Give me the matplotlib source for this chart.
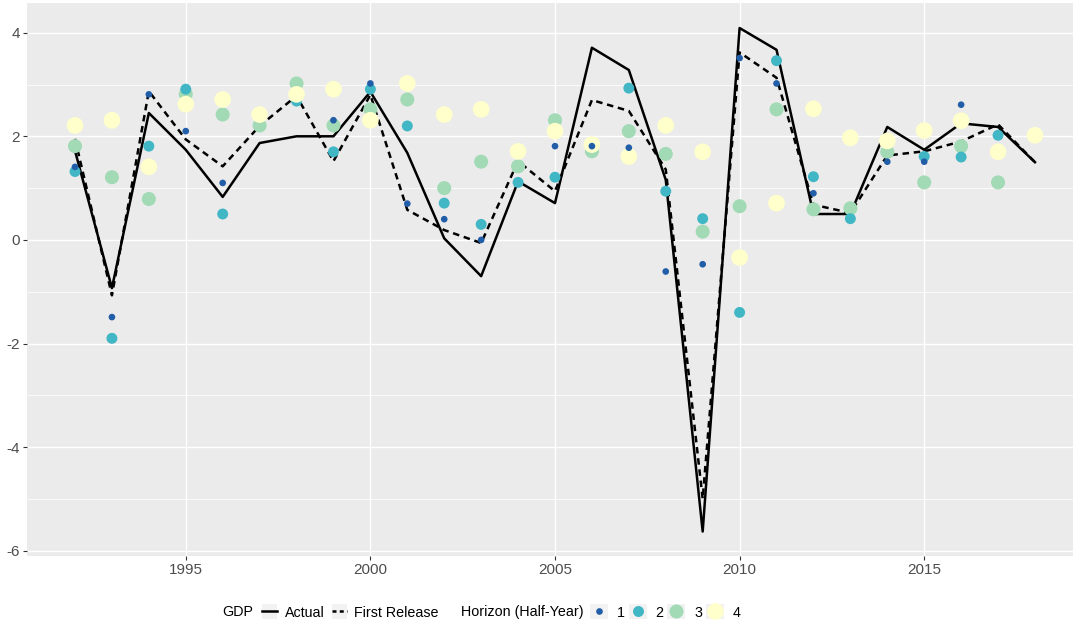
import numpy as np
import matplotlib
matplotlib.use("Agg")
import matplotlib.pyplot as plt
from matplotlib.lines import Line2D
from matplotlib.patches import Rectangle
from matplotlib.legend_handler import HandlerTuple

nan = np.nan
years = list(range(1992, 2019))
actual = [1.72, -0.93, 2.45, 1.74, 0.83, 1.87, 2.0, 2.0, 2.86, 1.68, 0.03, -0.70, 1.13,
          0.71, 3.71, 3.28, 1.16, -5.63, 4.09, 3.67, 0.50, 0.50, 2.18, 1.74, 2.25, 2.18, 1.50]
first_release = [1.95, -1.07, 2.87, 1.94, 1.42, 2.2, 2.78, 1.52, 2.8, 0.58, 0.19, -0.06, 1.52,
                 0.94, 2.70, 2.49, 1.36, -5.0, 3.62, 3.13, 0.68, 0.52, 1.63, 1.71, 1.90, 2.23, 1.50]
h1 = [1.41, -1.49, 2.81, 2.10, 1.10, nan, nan, 2.31, 3.02, 0.70, 0.40, 0.0, nan, 1.81,
      1.81, 1.78, -0.61, -0.47, 3.51, 3.02, 0.90, nan, 1.51, 1.51, 2.61, nan, nan]
h2 = [1.32, -1.90, 1.81, 2.91, 0.50, nan, 2.68, 1.70, 2.91, 2.20, 0.71, 0.30, 1.11, 1.21,
      1.81, 2.93, 0.94, 0.41, -1.40, 3.46, 1.22, 0.41, nan, 1.61, 1.60, 2.02, nan]
h3 = [1.81, 1.21, 0.79, 2.81, 2.42, 2.21, 3.02, 2.21, 2.52, 2.71, 1.00, 1.51, 1.42, 2.31,
      1.71, 2.10, 1.66, 0.16, 0.65, 2.52, 0.59, 0.61, 1.70, 1.11, 1.81, 1.11, nan]
h4 = [2.21, 2.31, 1.41, 2.62, 2.71, 2.42, 2.81, 2.91, 2.31, 3.02, 2.42, 2.52, 1.71, 2.10,
      1.84, 1.61, 2.21, 1.70, -0.34, 0.71, 2.53, 1.97, 1.91, 2.11, 2.30, 1.70, 2.02]

horizon_labels = ["1", "2", "3", "4"]
horizon_colors = ["#225ea8", "#41b6c4", "#a1dab4", "#ffffcc"]
horizon_sizes = [23, 62, 102, 144]  # points^2
x_ticks = [1995, 2000, 2005, 2010, 2015]
y_ticks = [-6, -4, -2, 0, 2, 4]

plt.rcParams["font.family"] = ["Liberation Sans", "DejaVu Sans"]
plt.rcParams["axes.unicode_minus"] = False

W, H = 1073, 621
fig = plt.figure(figsize=(W / 100, H / 100), dpi=100)
ax = fig.add_axes([27.3 / W, 1 - 555.7 / H, 1 - 27.3 / W, (555.7 - 3.3) / H])
ax.set_facecolor("#ebebeb")
for s in ax.spines.values():
    s.set_visible(False)

ax.set_xlim(1990.708, 2019.03)
ax.set_ylim(-6.0965, 4.5676)
ax.set_xticks(x_ticks)
ax.set_yticks(y_ticks)
ax.set_yticks([-5, -3, -1, 1, 3], minor=True)
ax.grid(True, which="major", color="white", linewidth=1.0)
ax.grid(True, which="minor", axis="y", color="white", linewidth=0.55)
ax.set_axisbelow(True)
ax.tick_params(axis="both", which="major", length=3, width=0.8, color="#333333",
               labelcolor="#4d4d4d", labelsize=11, pad=2.5)
ax.tick_params(axis="both", which="minor", length=0)

ax.plot(years, actual, color="black", linewidth=1.8, zorder=2)
ax.plot(years, first_release, color="black", linewidth=1.8, linestyle=(0, (2.6, 1.9)), zorder=2)

order = [2, 1, 3, 0]
for i in order:
    vals = [h1, h2, h3, h4][i]
    ax.scatter(years, vals, s=horizon_sizes[i], color=horizon_colors[i], edgecolors="none",
               zorder=3 + order.index(i))

# legend
fs = 10.3
ly = 1 - 612 / H
x0 = 222
fig.text(x0 / W, ly, "GDP", fontsize=fs, color="black", va="center", ha="left")
fig.text((x0 + 238.7) / W, ly, "Horizon (Half-Year)", fontsize=fs, color="black",
         va="center", ha="left")

keybg = "#f2f2f2"
lh = [(Rectangle((0, 0), 1, 1, facecolor=keybg, edgecolor="none"),
       Line2D([], [], color="black", linewidth=1.8)),
      (Rectangle((0, 0), 1, 1, facecolor=keybg, edgecolor="none"),
       Line2D([], [], color="black", linewidth=1.8, linestyle=(0, (1.6, 1.3))))]
leg1 = fig.legend(lh, ["Actual", "First Release"], loc="center left",
                  bbox_to_anchor=((x0 + 40) / W, ly), ncol=2, frameon=False, fontsize=fs,
                  borderpad=0, borderaxespad=0, handlelength=1.05, handleheight=1.2,
                  handletextpad=0.54, columnspacing=0.49,
                  handler_map={tuple: HandlerTuple(ndivide=1, pad=0)})

ms = [4.8, 7.9, 10.1, 12.0]
ph = [(Rectangle((0, 0), 1, 1, facecolor=keybg, edgecolor="none"),
       Line2D([], [], linestyle="none", marker="o", markersize=ms[i],
              markerfacecolor=horizon_colors[i], markeredgewidth=0))
      for i in range(4)]
leg2 = fig.legend(ph, horizon_labels, loc="center left",
                  bbox_to_anchor=((x0 + 368) / W, ly), ncol=4, frameon=False, fontsize=fs,
                  borderpad=0, borderaxespad=0, handlelength=1.26, handleheight=1.2,
                  handletextpad=0.63, columnspacing=0.25,
                  handler_map={tuple: HandlerTuple(ndivide=1, pad=0)})

fig.savefig("out.png", dpi=100)
